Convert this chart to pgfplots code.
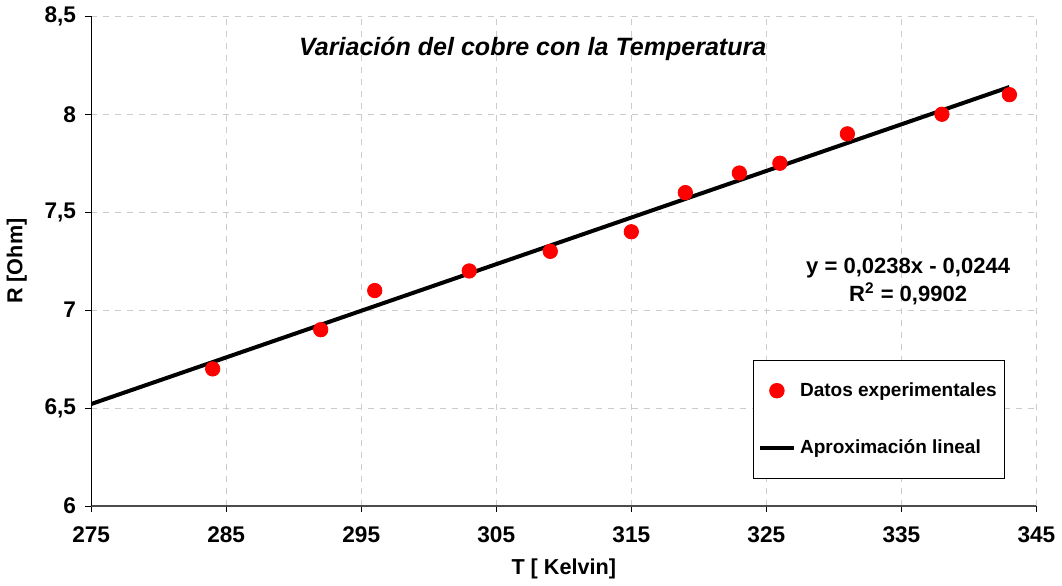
\documentclass[border=0pt]{standalone}
\usepackage{pgfplots}
\pgfplotsset{compat=1.18}
\usepackage{fontspec}
\setmainfont{Liberation Sans}
\begin{document}
\begin{tikzpicture}
\begin{axis}[
  scale only axis,
  width=472pt, height=244.5pt,
  xmin=275, xmax=345, ymin=6, ymax=8.5,
  xtick={275,285,...,345},
  ytick={6,6.5,...,8.5},
  axis x line*=bottom, axis y line*=left,
  axis line style={line width=0.6pt},
  x axis line style={-, draw=black!70},
  y axis line style={-},
  tick align=outside, major tick length=3pt,
  tick style={black, line width=0.5pt},
  grid=major,
  major grid style={dashed, gray!40, line width=0.5pt},
  /pgf/number format/assume math mode=true,
  /pgf/number format/use comma,
  /pgf/number format/1000 sep={},
  tick label style={font=\bfseries\fontsize{11.3}{13}\selectfont},
  xticklabel style={yshift=-4pt},
  yticklabel style={xshift=-1pt},
  xlabel={T [ Kelvin]}, ylabel={R [Ohm]},
  label style={font=\bfseries\fontsize{10.8}{13}\selectfont},
  xlabel style={at={(rel axis cs:0.5,0)}, anchor=north, yshift=-23pt},
  ylabel style={yshift=2pt},
  legend style={at={(rel axis cs:0.967,0.2986)}, anchor=north east,
    draw=black, line width=0.5pt, font=\bfseries\fontsize{9.5}{11}\selectfont,
    row sep=16pt, inner xsep=2pt, inner ysep=9pt},
  legend cell align=left,
]
\addplot[only marks, mark=*, mark size=3.6pt, color=red, mark options={fill=red, draw=red}]
coordinates {(284,6.7) (292,6.9) (296,7.1) (303,7.2) (309,7.3) (315,7.4) (319,7.6) (323,7.7) (326,7.75) (331,7.9) (338,8.0) (343,8.1)};
\addlegendentry{Datos experimentales}
\addplot[black, line width=2pt] coordinates {(275,6.5206) (343,8.1390)};
\addlegendentry{Aproximación lineal}
\node[font=\bfseries\itshape\fontsize{12.5}{14}\selectfont] at (axis cs:307.7,8.336) {Variación del cobre con la Temperatura};
\node[font=\bfseries\fontsize{11}{13}\selectfont, align=center] at (axis cs:335.5,7.145) {y = 0,0238x - 0,0244\\[1pt] R$^{\mathbf{2}}$ = 0,9902};
\end{axis}
\end{tikzpicture}
\end{document}
